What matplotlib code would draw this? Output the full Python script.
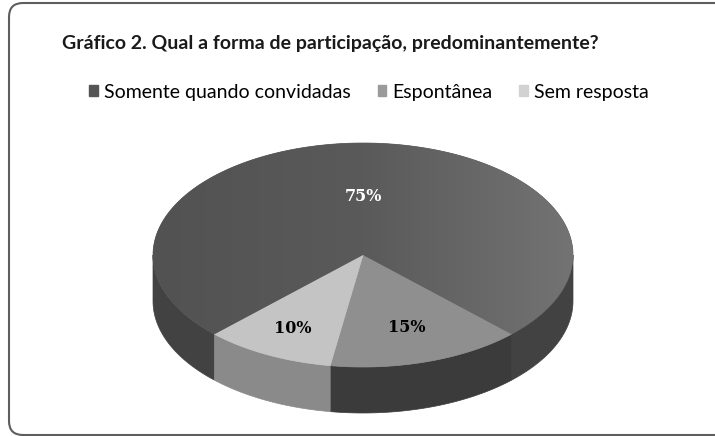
"""3D-style pie chart: forma de participação (grayscale scan look)."""

import numpy as np
import matplotlib.pyplot as plt
from matplotlib.patches import Polygon, PathPatch, Patch
from matplotlib.path import Path
from matplotlib.colors import LinearSegmentedColormap

title = "Gráfico 2. Qual a forma de participação, predominantemente?"
categories = ["Somente quando convidadas", "Espontânea", "Sem resposta"]
shares = [75, 15, 10]
labels = ["75%", "15%", "10%"]

top_colors = ["#5a5a5a", "#8f8f8f", "#c4c4c4"]
side_colors = ["#424242", "#3b3b3b", "#8a8a8a"]
legend_colors = ["#555555", "#9a9a9a", "#d2d2d2"]
label_colors = ["white", "black", "black"]
label_dist = [0.52, 0.68, 0.74]

W, H = 715, 436
CX, CY, RX, RY, DEPTH = 363, 255, 210, 112, 46
START = 135  # screen degrees, clockwise (y axis points down)


def ellipse(t, dz=0.0):
    return CX + RX * np.cos(t), CY + RY * np.sin(t) + dz


def front_spans(a0, a1):
    """Parts of [a0, a1] (degrees) that face the viewer (sin > 0)."""
    spans = []
    for k in range(-1, 3):
        lo, hi = max(a0, 360 * k), min(a1, 360 * k + 180)
        if hi > lo:
            spans.append((lo, hi))
    return spans


def chart_frame(ax, left=9, top=3, bottom=435, r=14):
    # scanned page: the right side of the box is cut off
    verts = [(W + 20, top), (left + r, top), (left, top), (left, top + r),
             (left, bottom - r), (left, bottom), (left + r, bottom),
             (W + 20, bottom)]
    codes = [Path.MOVETO, Path.LINETO, Path.CURVE3, Path.CURVE3,
             Path.LINETO, Path.CURVE3, Path.CURVE3, Path.LINETO]
    ax.add_patch(PathPatch(Path(verts, codes), fc="none", ec="#5e5e5e",
                           lw=1.5))


def main():
    fig = plt.figure(figsize=(W / 100, H / 100), dpi=100)
    ax = fig.add_axes([0, 0, 1, 1])
    ax.axis("off")

    chart_frame(ax)

    edges = START + np.concatenate([[0], np.cumsum(shares)]) / sum(shares) * 360

    # side walls first
    for i in range(len(shares)):
        for lo, hi in front_spans(edges[i], edges[i + 1]):
            t = np.radians(np.linspace(lo, hi, 80))
            xt, yt = ellipse(t)
            xb, yb = ellipse(t[::-1], DEPTH)
            pts = np.column_stack([np.r_[xt, xb], np.r_[yt, yb]])
            ax.add_patch(Polygon(pts, closed=True, fc=side_colors[i],
                                 ec=side_colors[i], lw=0.5))

    # top faces
    for i in range(len(shares)):
        t = np.radians(np.linspace(edges[i], edges[i + 1], 200))
        xt, yt = ellipse(t)
        pts = np.column_stack([np.r_[CX, xt], np.r_[CY, yt]])
        face = Polygon(pts, closed=True, fc=top_colors[i],
                       ec=top_colors[i], lw=0.5)
        ax.add_patch(face)
        if i == 0:
            # light falls from the right on the big slice
            shade = LinearSegmentedColormap.from_list(
                "shade", ["#525252", "#5a5a5a", "#737373"])
            im = ax.imshow(np.linspace(0, 1, 256)[None, :], cmap=shade,
                           extent=[CX - RX, CX + RX, CY + RY, CY - RY],
                           aspect="auto", zorder=face.get_zorder() + 0.1)
            im.set_clip_path(face)

        mid = np.radians((edges[i] + edges[i + 1]) / 2)
        lx = CX + label_dist[i] * RX * np.cos(mid)
        ly = CY + label_dist[i] * RY * np.sin(mid)
        ax.text(lx, ly, labels[i], ha="center", va="center",
                fontsize=11.5, fontweight="bold", color=label_colors[i],
                family="DejaVu Serif", zorder=5)

    ax.set_xlim(0, W)
    ax.set_ylim(H, 0)

    ax.text(62, 43, title, ha="left", va="center", fontsize=14.0,
            fontweight="bold", family="Lato", color="#1a1a1a")

    handles = [Patch(fc=c, ec=c) for c in legend_colors]
    ax.legend(handles, categories, loc="center left",
              bbox_to_anchor=(89 / W, 1 - 92 / H), ncol=3, frameon=False,
              handlelength=0.45, handleheight=0.45, handletextpad=0.3,
              columnspacing=1.4, borderpad=0, borderaxespad=0,
              prop={"family": "Lato", "size": 14.0})

    fig.savefig("out.png", dpi=100, facecolor="white")


if __name__ == "__main__":
    main()
